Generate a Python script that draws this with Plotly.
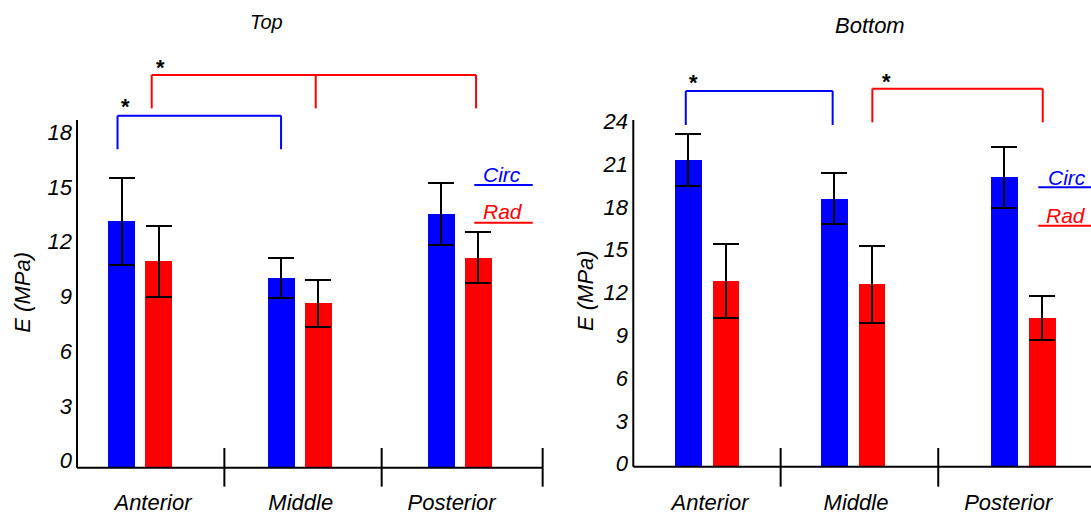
import plotly.graph_objects as go

# ---------------- data ----------------
regions = ["Anterior", "Middle", "Posterior"]

top_circ = [13.5, 10.4, 13.9]
top_circ_err = [2.4, 1.1, 1.7]
top_rad = [11.3, 9.0, 11.5]
top_rad_err = [1.95, 1.3, 1.4]

bot_circ = [21.5, 18.8, 20.3]
bot_circ_err = [1.8, 1.8, 2.15]
bot_rad = [13.0, 12.8, 10.4]
bot_rad_err = [2.6, 2.7, 1.55]

top_yticks = [0, 3, 6, 9, 12, 15, 18]
bot_yticks = [0, 3, 6, 9, 12, 15, 18, 21, 24]

# ---------------- layout constants ----------------
BLUE = "#0000FF"
RED = "#FF0000"
FONT = "Arial, Liberation Sans, sans-serif"
W, H = 1091, 514

# group centres (axis units) and bar geometry per panel
top_groups = [0.0, 1.0, 2.0]
bot_groups = [0.0, 0.926, 2.006]
top_off, top_w = 0.116, 0.168
bot_off, bot_w = 0.12, 0.169

fig = go.Figure()

def add_bars(groups, off, width, circ, circ_err, rad, rad_err, xa, ya):
    for vals, errs, col, sgn in ((circ, circ_err, BLUE, -1), (rad, rad_err, RED, 1)):
        fig.add_trace(go.Bar(
            x=[g + sgn * off for g in groups], y=vals, width=width,
            marker=dict(color=col, line=dict(width=0)),
            error_y=dict(type="data", array=errs, visible=True,
                         color="black", thickness=2, width=13),
            xaxis=xa, yaxis=ya, showlegend=False, hoverinfo="skip"))

add_bars(top_groups, top_off, top_w, top_circ, top_circ_err, top_rad, top_rad_err, "x", "y")
add_bars(bot_groups, bot_off, bot_w, bot_circ, bot_circ_err, bot_rad, bot_rad_err, "x2", "y2")

tickfont = dict(family=FONT, size=22, color="black", style="italic")
xlabfont = dict(family=FONT, size=22, color="black", style="italic")

ydom = [1 - 487 / H, 1 - 60 / H]

common = dict(showgrid=False, zeroline=False, showline=False, ticks="", automargin=False)

fig.update_layout(
    template="none",
    width=W, height=H, margin=dict(l=0, r=0, t=0, b=0, pad=0),
    paper_bgcolor="white", plot_bgcolor="white",
    barmode="overlay", bargap=0,
    xaxis=dict(domain=[75 / W, 545 / W], range=[-0.4083, 2.5347],
               tickvals=[0.08, 1.005, 1.95], ticktext=regions,
               tickfont=xlabfont, ticklabelstandoff=0, **common),
    yaxis=dict(domain=ydom, range=[-1.058, 22.34],
               tickvals=top_yticks, tickfont=tickfont,
               ticklabelshift=-7, ticklabelstandoff=2, **common),
    xaxis2=dict(domain=[631 / W, 1.0], range=[-0.4835, 2.4353], anchor="y2",
                tickvals=[0.018, 0.944, 1.91], ticktext=regions,
                tickfont=xlabfont, ticklabelstandoff=0, **common),
    yaxis2=dict(domain=ydom, range=[-1.424, 28.52], anchor="x2",
                tickvals=bot_yticks, tickfont=tickfont,
                ticklabelshift=-3, ticklabelstandoff=2, **common),
)

shapes = []
def line(x0, y0, x1, y1, xr, yr, color="black", w=2):
    shapes.append(dict(type="line", x0=x0, y0=y0, x1=x1, y1=y1, xref=xr, yref=yr,
                       line=dict(color=color, width=w), layer="above"))

# axes lines + separator ticks
# top panel
line(-0.3957, 0, 2.52, 0, "x", "y")
line(-0.3957, 0, -0.3957, 19.05, "x", "y")
for sx in (0.527, 1.512, 2.52):
    line(sx, -1.04, sx, 1.08, "x", "y")
# bottom panel
line(-0.469, 0, 2.4353, 0, "x2", "y2")
line(-0.469, 0, -0.469, 24.31, "x2", "y2")
for sx in (0.466, 1.466):
    line(sx, -1.40, sx, 1.31, "x2", "y2")

# significance brackets
def bracket(xs, ytop, ybot, color, xr, yr):
    line(xs[0], ytop, xs[-1], ytop, xr, yr, color)
    for xv in xs:
        line(xv, ytop, xv, ybot, xr, yr, color)

bracket([-0.142, 0.882], 19.29, 17.45, BLUE, "x", "y")
bracket([0.072, 1.099, 2.103], 21.52, 19.69, RED, "x", "y")
bracket([-0.136, 0.796], 26.35, 23.96, BLUE, "x2", "y2")
bracket([1.048, 2.129], 26.51, 24.15, RED, "x2", "y2")

# legend underlines (paper coords)
def pline(x0px, x1px, ypx, color):
    shapes.append(dict(type="line", xref="paper", yref="paper",
                       x0=x0px / W, x1=x1px / W, y0=1 - ypx / H, y1=1 - ypx / H,
                       line=dict(color=color, width=2)))
pline(474.3, 532.7, 185, BLUE)
pline(474.3, 532.7, 222.7, RED)
pline(1038.3, 1091, 187.3, BLUE)
pline(1038.3, 1091, 225.7, RED)

fig.update_layout(shapes=shapes)

ann = []
def ptext(txt, xpx, ypx, size, color="black", angle=0):
    ann.append(dict(text=txt, x=xpx / W, y=1 - ypx / H, xref="paper", yref="paper",
                    showarrow=False, xanchor="center", yanchor="middle", textangle=angle,
                    font=dict(family=FONT, size=size, color=color, style="italic")))

ptext("Top", 266.7, 22, 20)
ptext("Bottom", 870, 25, 22)
ptext("E (MPa)", 23, 291.7, 22, angle=-90)
ptext("E (MPa)", 585, 290, 22, angle=-90)
ptext("Circ", 501.7, 174, 21, BLUE)
ptext("Rad", 503, 211.5, 21, RED)
ptext("Circ", 1066.7, 177.5, 21, BLUE)
ptext("Rad", 1066, 215, 21, RED)

def star(x, y, xr, yr):
    ann.append(dict(text="<b>*</b>", x=x, y=y, xref=xr, yref=yr, showarrow=False,
                    xanchor="center", yanchor="middle", yshift=-3,
                    font=dict(family=FONT, size=22, color="black")))

star(-0.095, 19.97, "x", "y")
star(0.128, 22.07, "x", "y")
star(-0.088, 27.12, "x2", "y2")
star(1.139, 27.19, "x2", "y2")

fig.update_layout(annotations=ann)

fig.write_html("out.html",
               config={"displayModeBar": False},
               post_script="document.body.style.margin='0';"
                           "document.body.style.overflow='hidden';")
